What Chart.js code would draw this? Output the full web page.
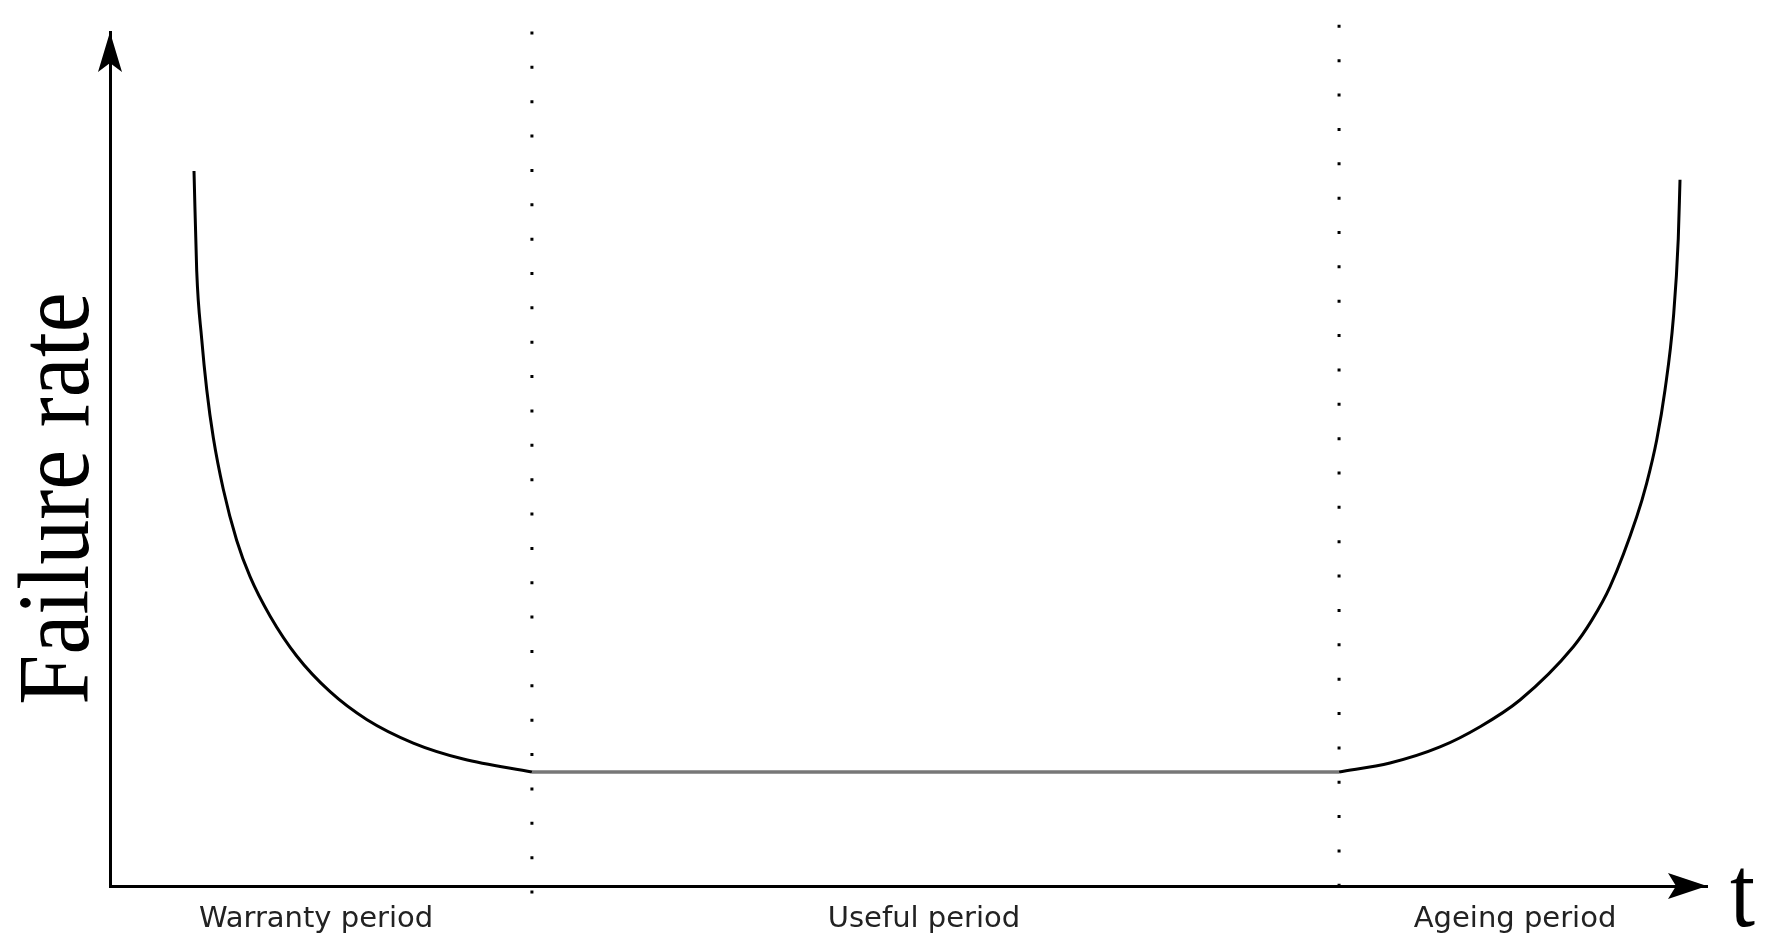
<!DOCTYPE html>
<html>
<head>
<meta charset="utf-8">
<script src="https://cdn.jsdelivr.net/npm/chart.js@4/dist/chart.umd.min.js"></script>
<style>
html,body{margin:0;padding:0;background:#fff;}
#wrap{width:1775px;height:952px;position:relative;}
</style>
</head>
<body>
<div id="wrap"><canvas id="c"></canvas></div>
<script>
// Period labels and their positions on the time axis
const periodLabels = ["Warranty period", "Useful period", "Ageing period"];
const periodLabelPos = [12.9, 50.97, 87.98];
// Period boundaries (time)
const boundaries = [26.42, 76.96];
// Warranty (infant mortality) curve
const warrantyT = [5.26, 5.43, 5.74, 6.06, 6.47, 7.09, 7.93, 8.77, 10.02, 11.69, 13.78, 16.07, 18.99, 22.12, 26.42];
const warrantyRate = [83.72, 72.01, 64.1, 58.08, 52.48, 46.49, 40.49, 36.22, 31.62, 26.93, 22.75, 19.5, 16.74, 14.87, 13.35];
// Useful life (constant rate)
const usefulT = [26.42, 76.96];
const usefulRate = [13.35, 13.35];
// Ageing (wear-out) curve
const ageingT = [76.96, 80.15, 83.28, 85.79, 88.29, 91.63, 92.78, 93.93, 95.6, 96.22, 96.85, 97.37, 97.89, 98.2, 98.31];
const ageingRate = [13.35, 14.4, 16.28, 18.65, 21.78, 28.02, 31.1, 35.05, 43.24, 47.15, 52.22, 58.08, 66.43, 75.76, 82.69];
// Dotted boundary line extents (rate units)
const leftDotRange = [100.06, -0.88];
const rightDotRange = [100.84, -0.12];

const yTitle = "Failure rate";
const xTitle = "t";

const pts = (xs, ys) => xs.map((x, i) => ({x: x, y: ys[i]}));

const arrowsAndTitles = {
  id: 'arrowsAndTitles',
  afterDraw(chart) {
    const ctx = chart.ctx;
    const a = chart.chartArea;
    ctx.save();
    ctx.fillStyle = '#000';
    // y-axis arrow
    const x0 = a.left;
    ctx.beginPath();
    ctx.moveTo(x0, a.top);
    ctx.lineTo(x0 - 12, a.top + 40);
    ctx.lineTo(x0, a.top + 31);
    ctx.lineTo(x0 + 12, a.top + 40);
    ctx.closePath();
    ctx.fill();
    // x-axis arrow
    const y0 = a.bottom;
    ctx.beginPath();
    ctx.moveTo(a.right, y0);
    ctx.lineTo(a.right - 39, y0 - 13);
    ctx.lineTo(a.right - 31, y0);
    ctx.lineTo(a.right - 39, y0 + 13);
    ctx.closePath();
    ctx.fill();
    // y title
    ctx.font = '90px "Liberation Serif"';
    ctx.textAlign = 'center';
    ctx.textBaseline = 'alphabetic';
    ctx.save();
    ctx.translate(88, 498.5);
    ctx.rotate(-Math.PI / 2);
    ctx.scale(1, 1.12);
    ctx.fillText(yTitle, 0, 0);
    ctx.restore();
    // x title
    ctx.save();
    ctx.textAlign = 'left';
    ctx.translate(a.right + 23, 926);
    ctx.scale(1, 1.12);
    ctx.fillText(xTitle, 0, 0);
    ctx.restore();
    ctx.restore();
  }
};

new Chart(document.getElementById('c'), {
  type: 'line',
  data: {
    datasets: [
      {data: pts(warrantyT, warrantyRate), borderColor: '#000', borderWidth: 3, cubicInterpolationMode: 'monotone', pointRadius: 0},
      {data: pts(usefulT, usefulRate), borderColor: '#777', borderWidth: 3.6, pointRadius: 0},
      {data: pts(ageingT, ageingRate), borderColor: '#000', borderWidth: 3, cubicInterpolationMode: 'monotone', pointRadius: 0},
      {data: pts([boundaries[0], boundaries[0]], leftDotRange), borderColor: '#000', borderWidth: 3, borderDash: [3, 31.36], borderCapStyle: 'butt', pointRadius: 0, clip: false},
      {data: pts([boundaries[1], boundaries[1]], rightDotRange), borderColor: '#000', borderWidth: 3, borderDash: [3, 31.36], borderCapStyle: 'butt', pointRadius: 0, clip: false}
    ]
  },
  options: {
    responsive: true,
    maintainAspectRatio: false,
    animation: false,
    events: [],
    layout: {padding: {left: 110, right: 68, top: 32, bottom: 0}},
    plugins: {legend: {display: false}, tooltip: {enabled: false}},
    scales: {
      x: {
        type: 'linear', min: 0, max: 100,
        grid: {display: false, drawTicks: false},
        border: {display: true, color: '#000', width: 3},
        afterBuildTicks: s => { s.ticks = periodLabelPos.map(v => ({value: v})); },
        afterFit: s => { s.height = 66; },
        ticks: {
          autoSkip: false, maxRotation: 0, padding: 16,
          color: '#222',
          font: {family: '"DejaVu Sans"', size: 29},
          callback: (v, i) => periodLabels[i]
        }
      },
      y: {
        type: 'linear', min: 0, max: 100,
        grid: {display: false, drawTicks: false},
        border: {display: true, color: '#000', width: 3},
        ticks: {display: false},
        afterFit: s => { s.width = 0; }
      }
    }
  },
  plugins: [arrowsAndTitles]
});
</script>
</body>
</html>
